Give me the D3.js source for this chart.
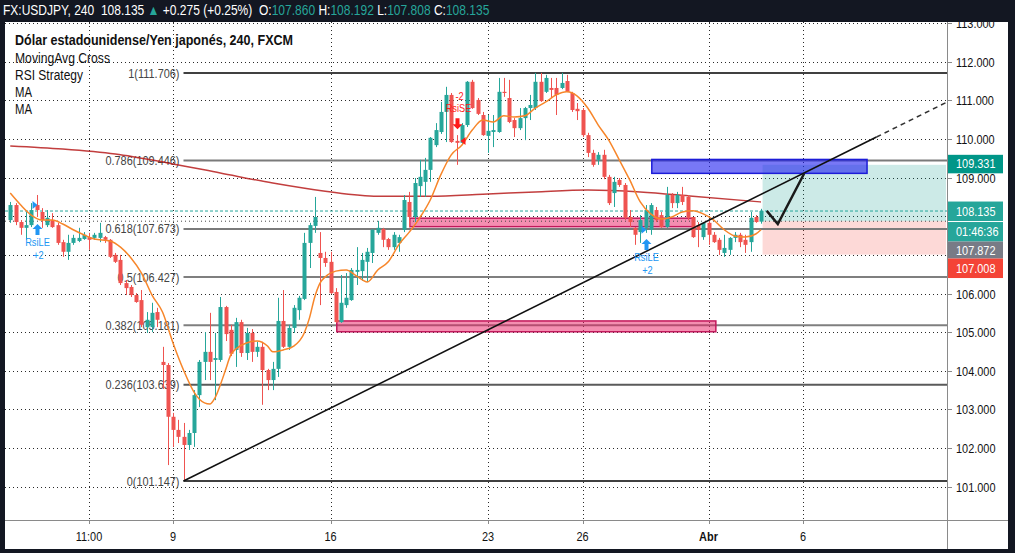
<!DOCTYPE html>
<html><head><meta charset="utf-8">
<script src="https://cdn.jsdelivr.net/npm/d3@7"></script>
<style>
html,body{margin:0;padding:0;background:#131722;overflow:hidden;}
svg{display:block;}
</style></head>
<body>
<svg id="c" width="1015" height="553"></svg>
<script>
// ---------------- DATA ----------------
// 4h candles [open, high, low, close], oldest first
const candles = [
[107.90,108.37,107.83,108.29],[108.29,108.34,107.77,107.85],[107.85,107.90,107.52,107.70],[107.70,108.11,107.39,107.77],
[107.77,108.34,107.72,108.16],[108.29,108.55,107.98,108.16],[108.11,108.21,107.70,107.90],[107.77,108.16,107.72,107.96],
[107.90,108.08,107.70,107.72],[107.77,107.83,107.26,107.31],[107.33,107.39,106.95,107.08],[107.08,107.52,106.87,107.31],
[107.31,107.52,107.26,107.44],[107.36,107.70,107.33,107.44],[107.41,107.59,107.39,107.52],[107.46,107.57,107.13,107.39],
[107.44,107.57,107.39,107.52],[107.44,107.83,107.33,107.57],[107.46,107.49,107.31,107.39],[107.39,107.41,106.92,106.95],
[107.00,107.05,106.79,106.82],[106.87,107.00,106.22,106.27],[106.27,106.35,105.96,106.14],[106.17,106.22,105.91,105.96],
[105.96,106.01,105.76,105.78],[105.83,106.09,105.13,105.19],[105.13,105.52,104.98,105.32],[105.13,105.76,105.00,105.50],
[105.52,105.63,105.13,105.32],[104.23,104.62,103.53,104.15],[104.15,104.20,101.56,102.81],[102.81,102.91,102.03,102.47],
[102.47,102.73,102.13,102.29],[102.29,102.65,101.147,102.08],[102.08,102.47,101.95,102.39],[102.39,103.50,102.03,103.37],
[103.37,104.28,103.06,104.23],[104.23,105.00,103.76,104.49],[104.49,105.50,103.76,104.23],[104.28,104.98,103.24,104.33],
[104.28,105.91,104.23,105.65],[105.65,105.68,104.77,104.95],[105.06,105.19,104.38,104.44],[104.54,105.37,104.10,105.26],
[105.26,105.32,104.36,104.46],[104.46,105.11,104.28,104.98],[104.98,105.08,104.23,104.49],[104.49,104.75,104.36,104.62],
[104.62,104.75,103.12,104.02],[104.02,104.05,103.50,103.76],[103.76,104.23,103.50,104.05],[104.05,105.89,103.84,105.29],
[105.29,106.09,104.59,104.62],[104.62,105.19,104.54,105.11],[105.11,105.70,104.98,105.63],[105.57,105.94,105.32,105.89],
[105.86,107.57,105.83,107.31],[107.31,107.83,106.66,107.77],[107.75,108.50,107.57,107.98],[107.05,107.59,105.70,106.92],
[106.92,107.08,106.69,106.79],[106.82,107.08,105.99,106.01],[106.04,106.14,105.24,105.26],[105.26,106.48,105.24,105.76],
[105.70,106.53,105.63,105.89],[105.83,106.66,105.81,106.61],[106.56,107.20,106.22,106.61],[106.58,107.05,106.33,106.87],
[106.82,107.18,106.30,107.08],[107.05,107.67,106.79,107.65],[107.57,107.88,107.52,107.70],[107.67,107.70,107.20,107.39],
[107.41,107.44,107.13,107.20],[107.20,107.59,107.13,107.52],[107.31,107.52,107.08,107.46],[107.65,108.55,107.59,108.42],
[108.37,108.63,107.72,107.98],[107.98,108.99,107.85,108.86],[108.78,109.46,108.50,109.02],[108.89,109.51,108.50,109.20],
[109.20,110.05,108.89,110.03],[109.84,110.41,109.79,110.23],[110.18,110.96,110.13,110.70],[110.70,111.35,109.92,111.14],
[111.14,111.19,109.90,109.92],[109.95,110.10,109.33,109.90],[109.90,110.41,109.84,110.36],[110.36,111.50,110.31,111.48],
[111.48,111.53,110.78,110.80],[111.01,111.06,110.62,110.65],[110.62,110.70,110.08,110.10],[110.08,110.62,109.64,110.21],
[110.18,110.62,109.79,110.23],[110.18,111.58,110.16,111.22],[111.22,111.58,111.09,111.19],[111.06,111.53,110.41,110.44],
[110.49,110.54,110.05,110.28],[110.28,110.80,110.23,110.54],[110.54,110.83,109.97,110.80],[110.80,111.14,110.49,110.88],
[110.80,111.71,110.75,111.48],[111.48,111.71,110.96,110.98],[111.22,111.66,111.19,111.58],[111.32,111.58,111.06,111.27],
[111.32,111.58,110.62,111.14],[111.32,111.71,111.29,111.45],[111.50,111.66,111.22,111.22],[111.19,111.22,110.70,110.75],
[110.78,110.93,110.49,110.72],[110.75,110.80,110.05,110.10],[110.10,110.16,109.53,109.64],[109.64,109.72,109.28,109.33],
[109.46,109.66,109.33,109.59],[109.59,109.72,108.96,109.02],[109.02,109.07,108.29,108.34],[108.60,109.02,108.24,108.89],
[108.94,108.99,108.76,108.81],[108.81,108.86,107.90,107.96],[107.98,108.16,107.72,107.85],[107.70,107.72,107.26,107.52],
[107.59,108.03,107.31,107.90],[107.70,108.29,107.57,108.16],[107.65,108.34,107.52,108.29],[108.16,108.24,107.85,107.90],
[108.03,108.11,107.70,107.72],[107.72,108.76,107.70,108.55],[108.55,108.60,108.21,108.34],[108.34,108.63,108.21,108.55],
[108.55,108.76,108.29,108.37],[108.50,108.55,107.90,107.96],[107.98,107.98,107.44,107.46],[107.77,107.85,107.20,107.65],
[107.46,107.85,107.39,107.83],[107.83,107.88,107.26,107.52],[107.52,107.59,107.31,107.33],[107.39,107.44,107.00,107.13],
[107.05,107.52,106.95,107.18],[107.13,107.46,107.00,107.44],[107.44,107.59,107.33,107.52],[107.52,107.57,107.20,107.33],
[107.39,107.52,107.05,107.26],[107.33,108.11,107.08,107.96],[107.98,108.03,107.83,107.85],[107.860,108.192,107.808,108.135]
];

// fast moving average (orange), read at bar indices
const maIdx = [0,2,4,6,8,10,12,14,16,19,21,23,25,27,29,31,33,35,37,38,39,40,41,42,43,45,47,49,50,52,54,56,57,58,59,60,62,64,66,68,70,72,74,76,78,80,82,84,86,88,90,92,94,96,98,100,102,104,106,108,110,112,114,116,118,120,122,124,126,128,130,132,134,136,138,140,142,143];
const maVal = [108.60,108.29,108.03,107.90,107.90,107.80,107.65,107.52,107.41,107.36,107.20,106.92,106.53,105.96,105.52,104.72,104.02,103.45,103.17,103.14,103.30,103.63,104.02,104.41,104.57,104.72,104.77,104.64,104.49,104.54,104.64,104.98,105.37,105.91,106.27,106.43,106.58,106.61,106.45,106.30,106.61,106.82,107.26,107.59,107.96,108.42,109.07,109.59,109.84,110.23,110.49,110.44,110.60,110.57,110.60,110.80,110.96,111.14,111.22,111.11,110.80,110.36,109.97,109.46,108.94,108.37,108.06,107.93,107.98,108.11,108.14,108.06,107.90,107.65,107.49,107.46,107.54,107.65];

// slow moving average (dark red)
const slowIdx = [0,10,20,30,40,50,60,70,80,90,100,110,120,130,143];
const slowVal = [109.82,109.74,109.61,109.38,109.12,108.86,108.65,108.52,108.52,108.57,108.63,108.68,108.63,108.52,108.37];

// Fibonacci retracement
const fibRatios = ["1","0.786","0.618","0.5","0.382","0.236","0"];
const fibPrices = [111.706,109.446,107.673,106.427,105.181,103.639,101.147];
const fibStartIdx = 33;

// trend line (anchor points: bar index, price)
const trendIdx = [33,165];
const trendVal = [101.147,110.05];

// rectangles: [startIdx, endIdx, topPrice, bottomPrice]
const pinkZones = [[76.1,130.3,107.95,107.73],[62.2,134.4,105.29,105.01]];
const blueZone = [122.2,163.2,109.47,109.11];

// long position tool
const posStartIdx = 143.3;
const posTarget = 109.331, posEntry = 107.872, posStop = 107.008;

// hand-drawn path
const drawIdx = [144.1,146.2,151.2];
const drawVal = [108.14,107.80,109.10];

// strategy signals
const sigIdx = [5,121,85];
const sigSide = ["LE","LE","SE"];
const sigFillPrice = [108.29,107.65,109.95];
const sigArrowPrice = [107.80,107.41,110.25];

// axes
const priceTicks = [101,102,103,104,105,106,107,108,109,110,111,112,113];
const timeTickIdx = [15,31,61,91,109,133,151];
const timeTickLabels = ["11:00","9","16","23","26","Abr","6"];

const lastPrice = 108.135, prevClose = 107.872;
const countdown = "01:46:36";
const headerSymbol = "FX:USDJPY, 240";
const headerChange = "+0.275 (+0.25%)";
const ohlcNames = ["O:","H:","L:","C:"];
const ohlcValues = ["107.860","108.192","107.808","108.135"];
const legendLines = ["Dólar estadounidense/Yen japonés, 240, FXCM","MovingAvg Cross","RSI Strategy","MA","MA"];

// ---------------- DRAW ----------------
const FONT = '"Liberation Sans Narrow","Arial Narrow","Liberation Sans",Arial,sans-serif';
const svg = d3.select("#c");
const plot = {left:5, top:22, right:947, bottom:520};
const x = d3.scaleLinear().domain([0,143]).range([10.25, 10.25+143*5.25]);
const y = d3.scaleLinear().domain([101,112]).range([486.7,61.7]);
const UP = "#26a69a", DOWN = "#ef5350";

svg.append("rect").attr("width",1015).attr("height",553).attr("fill","#131722");
svg.append("rect").attr("x",5).attr("y",22).attr("width",1003).attr("height",527).attr("fill","#ffffff");

svg.append("defs").append("clipPath").attr("id","pc").append("rect")
  .attr("x",plot.left).attr("y",plot.top).attr("width",plot.right-plot.left).attr("height",plot.bottom-plot.top);
const g = svg.append("g").attr("clip-path","url(#pc)");

// grid
g.selectAll(".hg").data(priceTicks).join("line")
  .attr("x1",plot.left).attr("x2",plot.right).attr("y1",d=>Math.round(y(d))+0.5).attr("y2",d=>Math.round(y(d))+0.5)
  .attr("stroke","#2a2a2a").attr("stroke-dasharray","1,3");
g.selectAll(".vg").data(timeTickIdx).join("line")
  .attr("x1",d=>Math.round(x(d))+0.5).attr("x2",d=>Math.round(x(d))+0.5).attr("y1",plot.top).attr("y2",plot.bottom)
  .attr("stroke","#2a2a2a").attr("stroke-dasharray","1,3");

// position tool
const posX0 = x(posStartIdx), posX1 = plot.right-1;
g.append("rect").attr("x",posX0).attr("y",y(posTarget)).attr("width",posX1-posX0).attr("height",y(posEntry)-y(posTarget))
  .attr("fill","rgba(0,150,136,0.2)");
g.append("rect").attr("x",posX0).attr("y",y(posEntry)).attr("width",posX1-posX0).attr("height",y(posStop)-y(posEntry))
  .attr("fill","rgba(244,67,54,0.2)");

// fib lines
const fibColors = ["#000","#7a7a7a","#7a7a7a","#7f7f7f","#7f7f7f","#5a5a5a","#000"];
const fibWidths = [1.5,2,2,2,2,2,1.5];
g.selectAll(".fib").data(fibPrices).join("line")
  .attr("x1",x(fibStartIdx)).attr("x2",plot.right).attr("y1",d=>y(d)).attr("y2",d=>y(d))
  .attr("stroke",(d,i)=>fibColors[i]).attr("stroke-width",(d,i)=>fibWidths[i]);
g.selectAll(".fibt").data(fibPrices).join("text")
  .attr("x",x(fibStartIdx)-4).attr("y",d=>y(d)+4.5).attr("text-anchor","end")
  .attr("font-family",FONT).attr("font-size",13).attr("fill","#444")
  .text((d,i)=>fibRatios[i]+"("+d.toFixed(3)+")");

// pink zones
g.selectAll(".pz").data(pinkZones).join("rect")
  .attr("x",d=>x(d[0])).attr("y",d=>y(d[2])).attr("width",d=>x(d[1])-x(d[0])).attr("height",d=>y(d[3])-y(d[2]))
  .attr("fill","rgba(233,30,99,0.5)").attr("stroke","#c2185b").attr("stroke-width",1.5);

// blue zone
g.append("rect").attr("x",x(blueZone[0])).attr("y",y(blueZone[2]))
  .attr("width",x(blueZone[1])-x(blueZone[0])).attr("height",y(blueZone[3])-y(blueZone[2]))
  .attr("fill","rgba(30,30,240,0.6)").attr("stroke","#1c1cd8").attr("stroke-width",1.5);

// slow MA
const slowPts = slowIdx.map((d,i)=>[d,slowVal[i]]);
g.append("path").attr("d",d3.line().x(d=>x(d[0])).y(d=>y(d[1])).curve(d3.curveMonotoneX)(slowPts))
  .attr("fill","none").attr("stroke","#b71c1c").attr("stroke-opacity",0.85).attr("stroke-width",1.5);

// current price line and previous close
g.append("line").attr("x1",plot.left).attr("x2",plot.right).attr("y1",y(lastPrice)).attr("y2",y(lastPrice))
  .attr("stroke","#26a69a").attr("stroke-dasharray","3,2").attr("stroke-width",1);
g.append("line").attr("x1",plot.left).attr("x2",plot.right).attr("y1",y(prevClose)).attr("y2",y(prevClose))
  .attr("stroke","#444").attr("stroke-dasharray","1,3").attr("stroke-width",1);

// candles
const cg = g.append("g");
cg.selectAll(".wick").data(candles).join("line")
  .attr("x1",(d,i)=>Math.round(x(i))+0.5).attr("x2",(d,i)=>Math.round(x(i))+0.5)
  .attr("y1",d=>y(d[1])).attr("y2",d=>y(d[2]))
  .attr("stroke",d=>d[3]>=d[0]?UP:DOWN).attr("stroke-width",1);
cg.selectAll(".body").data(candles).join("rect")
  .attr("x",(d,i)=>Math.round(x(i))-1.5).attr("width",4)
  .attr("y",d=>y(Math.max(d[0],d[3])))
  .attr("height",d=>Math.max(1,Math.abs(y(d[0])-y(d[3]))))
  .attr("fill",d=>d[3]>=d[0]?UP:DOWN);

// fast MA
const maPts = maIdx.map((d,i)=>[d,maVal[i]]);
g.append("path").attr("d",d3.line().x(d=>x(d[0])).y(d=>y(d[1])).curve(d3.curveMonotoneX)(maPts))
  .attr("fill","none").attr("stroke","#f7862a").attr("stroke-width",1.5);

// trend line
const slope = (trendVal[1]-trendVal[0])/(trendIdx[1]-trendIdx[0]);
const edgeIdx = x.invert(plot.right);
g.append("line").attr("x1",x(trendIdx[0])).attr("y1",y(trendVal[0])).attr("x2",x(trendIdx[1])).attr("y2",y(trendVal[1]))
  .attr("stroke","#111").attr("stroke-width",1.6);
g.append("line").attr("x1",x(trendIdx[1])).attr("y1",y(trendVal[1]))
  .attr("x2",x(edgeIdx)).attr("y2",y(trendVal[1]+slope*(edgeIdx-trendIdx[1])))
  .attr("stroke","#333").attr("stroke-width",1.5).attr("stroke-dasharray","5,4");

// drawn path
const drawPts = drawIdx.map((d,i)=>[d,drawVal[i]]);
g.append("path").attr("d",d3.line().x(d=>x(d[0])).y(d=>y(d[1]))(drawPts))
  .attr("fill","none").attr("stroke","#1a1a1a").attr("stroke-width",2.5).attr("stroke-linejoin","miter");

// signals
sigIdx.forEach((si,k)=>{
  const cx = Math.round(x(si))+0.5;
  const fy = y(sigFillPrice[k]);
  const ay = y(sigArrowPrice[k]);
  if(sigSide[k]==="LE"){
    const col="#2196f3";
    g.append("path").attr("d",`M${cx-5},${fy-4}L${cx},${fy}L${cx-5},${fy+4}Z`).attr("fill",col);
    g.append("path").attr("d",`M${cx},${ay}L${cx+5},${ay+5}L${cx+2},${ay+5}L${cx+2},${ay+11}L${cx-2},${ay+11}L${cx-2},${ay+5}L${cx-5},${ay+5}Z`).attr("fill",col);
    g.append("text").attr("x",cx).attr("y",ay+22).attr("text-anchor","middle").attr("font-family",FONT).attr("font-size",11).attr("fill",col).text("RsiLE");
    g.append("text").attr("x",cx+1).attr("y",ay+35).attr("text-anchor","middle").attr("font-family",FONT).attr("font-size",11).attr("fill",col).text("+2");
  } else {
    const col="#ff1a1a";
    g.append("path").attr("d",`M${cx+8},${fy-4}L${cx+3},${fy}L${cx+8},${fy+4}Z`).attr("fill",col);
    g.append("path").attr("d",`M${cx},${ay}L${cx+5},${ay-5}L${cx+2},${ay-5}L${cx+2},${ay-11}L${cx-2},${ay-11}L${cx-2},${ay-5}L${cx-5},${ay-5}Z`).attr("fill",col);
    g.append("text").attr("x",cx+1).attr("y",ay-17).attr("text-anchor","middle").attr("font-family",FONT).attr("font-size",11).attr("fill",col).text("RsiSE");
    g.append("text").attr("x",cx+2).attr("y",ay-29).attr("text-anchor","middle").attr("font-family",FONT).attr("font-size",11).attr("fill",col).text("-2");
  }
});

// ---------------- AXES ----------------
svg.append("line").attr("x1",plot.right+0.5).attr("x2",plot.right+0.5).attr("y1",22).attr("y2",549).attr("stroke","#8a8a8a");
svg.append("line").attr("x1",5).attr("x2",1008).attr("y1",plot.bottom+0.5).attr("y2",plot.bottom+0.5).attr("stroke","#8a8a8a");

// coloured price labels (computed first so covered tick labels can be skipped)
const lblTop = y(lastPrice)-9.5;
const lblTop2 = Math.max(y(prevClose)-9.5, lblTop+40);
const lblTop3 = Math.max(y(posStop)-9.5, lblTop2+17);
const axisLabels = [
  {t0:y(posTarget)-10,h:18.5,bg:"#009688",txt:posTarget.toFixed(3),ty:-0.8},
  {t0:lblTop,h:20,bg:"#26a69a",txt:lastPrice.toFixed(3),ty:0},
  {t0:lblTop+20,h:20,bg:"#26a69a",txt:countdown,ty:0},
  {t0:lblTop2,h:17,bg:"#787b86",txt:prevClose.toFixed(3),ty:0},
  {t0:lblTop3,h:19.5,bg:"#f44336",txt:posStop.toFixed(3),ty:0}
];
const covered = p => axisLabels.slice(1).some(l => y(p) > l.t0-3 && y(p) < l.t0+l.h+3);

const pa = svg.append("g");
pa.selectAll(".pt").data(priceTicks).join("line")
  .attr("x1",plot.right).attr("x2",plot.right+5).attr("y1",d=>Math.round(y(d))+0.5).attr("y2",d=>Math.round(y(d))+0.5).attr("stroke","#8a8a8a");
pa.selectAll(".pl").data(priceTicks.filter(p=>!covered(p))).join("text")
  .attr("x",956).attr("y",d=>y(d)+5).attr("font-family",FONT).attr("font-size",13).attr("fill","#111")
  .text(d=>d3.format(".3f")(d));

const ta = svg.append("g");
ta.selectAll(".tt").data(timeTickIdx).join("line")
  .attr("x1",d=>Math.round(x(d))+0.5).attr("x2",d=>Math.round(x(d))+0.5).attr("y1",plot.bottom).attr("y2",plot.bottom+4).attr("stroke","#8a8a8a");
ta.selectAll(".tl").data(timeTickIdx).join("text")
  .attr("x",d=>x(d)).attr("y",541).attr("text-anchor","middle").attr("font-family",FONT).attr("font-size",13)
  .attr("font-weight",(d,i)=>timeTickLabels[i]==="Abr"?"bold":"normal").attr("fill","#111")
  .text((d,i)=>timeTickLabels[i]);

axisLabels.forEach(l=>{
  svg.append("rect").attr("x",plot.right+1).attr("y",l.t0).attr("width",55).attr("height",l.h).attr("fill",l.bg);
  svg.append("text").attr("x",956).attr("y",l.t0+l.h/2+4.5+l.ty).attr("font-family",FONT).attr("font-size",13).attr("fill","#fff").text(l.txt);
});
svg.append("line").attr("x1",plot.right+1).attr("x2",plot.right+56).attr("y1",lblTop+20).attr("y2",lblTop+20).attr("stroke","#fff");

// narrow-font emulation for all texts drawn so far
svg.selectAll("text").each(function(){
  const w = this.getComputedTextLength();
  d3.select(this).attr("textLength", w*0.84).attr("lengthAdjust","spacingAndGlyphs");
});

// ---------------- HEADER & LEGEND ----------------
svg.append("rect").attr("width",1015).attr("height",22).attr("fill","#131722");
const hdrG = svg.append("g");
const hdrText = hdrG.append("text").attr("x",0).attr("y",0).attr("font-family",FONT).attr("font-size",14)
  .attr("fill","#fff").attr("xml:space","preserve");
hdrText.append("tspan").text(headerSymbol+"  "+lastPrice.toFixed(3)+" ");
hdrText.append("tspan").attr("fill","#26a69a").text("▲");
hdrText.append("tspan").text(" "+headerChange+" ");
ohlcValues.forEach((v,i)=>{
  hdrText.append("tspan").text(" "+ohlcNames[i]);
  hdrText.append("tspan").attr("fill","#26a69a").text(v);
});
const hdrScale = 487 / hdrText.node().getComputedTextLength();
hdrG.attr("transform",`translate(3,15) scale(${hdrScale},1)`);

const legW = [278,95,68,17,17];
const legY = [45,63,80,97,114];
legendLines.forEach((t,i)=>{
  svg.append("text").attr("x",15).attr("y",legY[i]).attr("font-family",FONT).attr("font-size",14)
    .attr("font-weight",i===0?"bold":"normal").attr("fill","#111")
    .attr("textLength",legW[i]).attr("lengthAdjust","spacingAndGlyphs").text(t);
});
</script>
</body></html>
